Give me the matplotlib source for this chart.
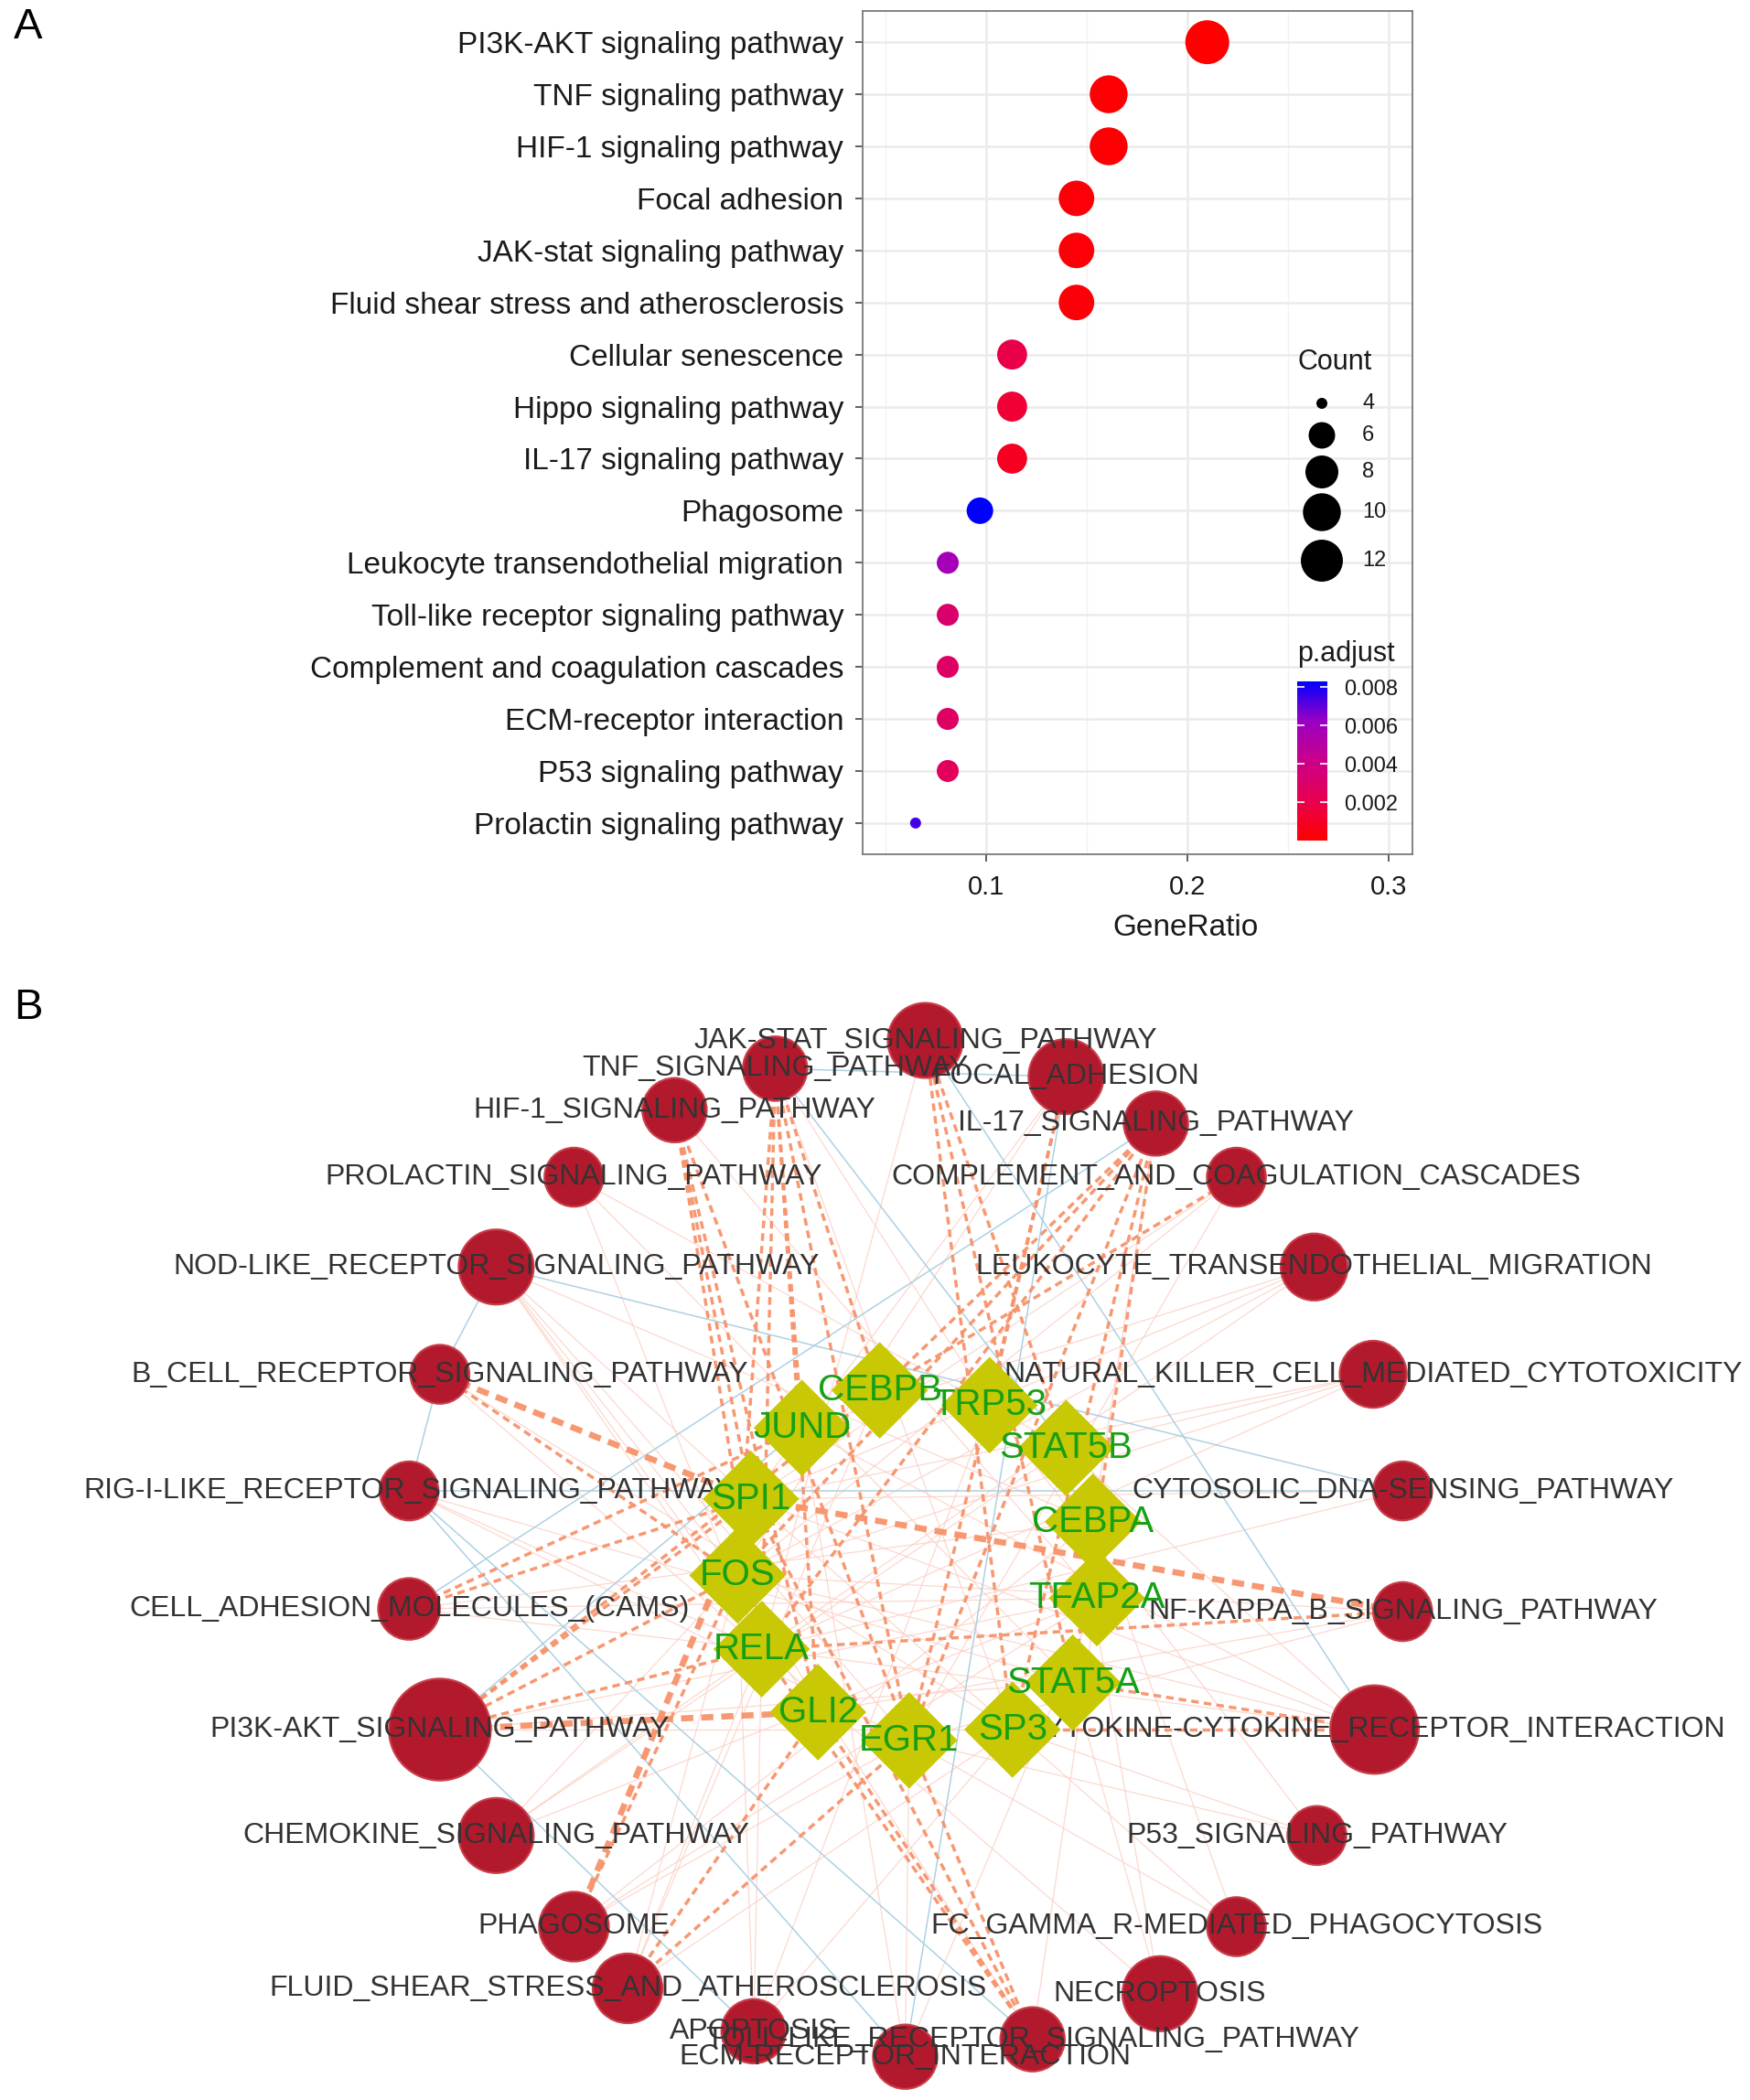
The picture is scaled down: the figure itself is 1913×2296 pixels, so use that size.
import numpy as np
import matplotlib
matplotlib.use("Agg")
import matplotlib.pyplot as plt
from matplotlib.colors import LinearSegmentedColormap
from matplotlib.patches import Circle, RegularPolygon

plt.rcParams['font.family'] = ['Liberation Sans', 'DejaVu Sans']

# ---------------- data, panel A ----------------
terms = ["PI3K-AKT signaling pathway", "TNF signaling pathway", "HIF-1 signaling pathway",
         "Focal adhesion", "JAK-stat signaling pathway", "Fluid shear stress and atherosclerosis",
         "Cellular senescence", "Hippo signaling pathway", "IL-17 signaling pathway",
         "Phagosome", "Leukocyte transendothelial migration", "Toll-like receptor signaling pathway",
         "Complement and coagulation cascades", "ECM-receptor interaction",
         "P53 signaling pathway", "Prolactin signaling pathway"]
gene_ratio = [0.210, 0.161, 0.161, 0.145, 0.145, 0.145, 0.113, 0.113, 0.113,
              0.097, 0.081, 0.081, 0.081, 0.081, 0.081, 0.065]
counts = [13, 10, 10, 9, 9, 9, 7, 7, 7, 6, 5, 5, 5, 5, 5, 4]
p_adjust = [0.00001, 0.0001, 0.0001, 0.0002, 0.0002, 0.0002, 0.0019, 0.0014, 0.0009,
            0.0083, 0.0058, 0.0031, 0.0028, 0.0028, 0.0025, 0.0074]
legend_counts = [4, 6, 8, 10, 12]
cbar_ticks = [0.002, 0.004, 0.006, 0.008]

# ---------------- data, panel B ----------------
pw_keys = ["JAK", "TNF", "FOCAL", "HIF1", "IL17", "PRL", "COMP", "NOD", "LEUK", "BCELL",
           "NK", "RIG", "CDS", "CAMS", "NFKB", "PI3K", "CCR", "CHEMO", "P53", "PHAGO",
           "FCGR", "FSS", "NECRO", "APOP", "TLR", "ECM"]
pw_names = ["JAK-STAT_SIGNALING_PATHWAY", "TNF_SIGNALING_PATHWAY", "FOCAL_ADHESION",
            "HIF-1_SIGNALING_PATHWAY", "IL-17_SIGNALING_PATHWAY", "PROLACTIN_SIGNALING_PATHWAY",
            "COMPLEMENT_AND_COAGULATION_CASCADES", "NOD-LIKE_RECEPTOR_SIGNALING_PATHWAY",
            "LEUKOCYTE_TRANSENDOTHELIAL_MIGRATION", "B_CELL_RECEPTOR_SIGNALING_PATHWAY",
            "NATURAL_KILLER_CELL_MEDIATED_CYTOTOXICITY", "RIG-I-LIKE_RECEPTOR_SIGNALING_PATHWAY",
            "CYTOSOLIC_DNA-SENSING_PATHWAY", "CELL_ADHESION_MOLECULES_(CAMS)",
            "NF-KAPPA_B_SIGNALING_PATHWAY", "PI3K-AKT_SIGNALING_PATHWAY",
            "CYTOKINE-CYTOKINE_RECEPTOR_INTERACTION", "CHEMOKINE_SIGNALING_PATHWAY",
            "P53_SIGNALING_PATHWAY", "PHAGOSOME", "FC_GAMMA_R-MEDIATED_PHAGOCYTOSIS",
            "FLUID_SHEAR_STRESS_AND_ATHEROSCLEROSIS", "NECROPTOSIS", "APOPTOSIS",
            "TOLL-LIKE_RECEPTOR_SIGNALING_PATHWAY", "ECM-RECEPTOR_INTERACTION"]
pw_x = [690, 578, 795, 503, 862, 428, 922, 370, 980, 328, 1024, 305, 1046, 305, 1046,
        328, 1025, 370, 982, 428, 922, 468, 865, 562, 770, 675]
pw_y = [776, 797, 803, 828, 838, 878, 878, 945, 945, 1025, 1025, 1112, 1112, 1200, 1202,
        1290, 1290, 1369, 1369, 1437, 1437, 1483, 1487, 1515, 1521, 1534]
pw_r = [28, 24, 28, 24, 24, 22, 22, 28, 25, 22, 25, 22, 22, 23, 22,
        38, 33, 28, 22, 26, 22, 26, 28, 24, 24, 24]

tf_names = ["CEBPB", "JUND", "TRP53", "STAT5B", "SPI1", "CEBPA", "FOS", "TFAP2A",
            "RELA", "STAT5A", "GLI2", "SP3", "EGR1"]
tf_x = [656, 598, 738, 795, 560, 815, 550, 818, 568, 800, 610, 755, 678]
tf_y = [1037, 1065, 1048, 1080, 1118, 1135, 1175, 1192, 1230, 1255, 1277, 1290, 1298]

# TF -> pathway regulation (dashed), thick ones separately
reg_edges = [("HIF1", "SPI1"), ("HIF1", "GLI2"), ("HIF1", "EGR1"), ("HIF1", "RELA"),
             ("TNF", "JUND"), ("TNF", "FOS"), ("TNF", "RELA"), ("TNF", "EGR1"),
             ("TNF", "CEBPB"), ("TNF", "GLI2"), ("JAK", "STAT5B"), ("JAK", "STAT5A"),
             ("JAK", "SP3"), ("FOCAL", "TRP53"), ("FOCAL", "EGR1"), ("IL17", "CEBPB"),
             ("IL17", "EGR1"), ("IL17", "RELA"), ("IL17", "FOS"), ("IL17", "SP3"),
             ("IL17", "STAT5A"), ("BCELL", "FOS"), ("CAMS", "SPI1"), ("CAMS", "JUND"),
             ("PI3K", "FOS"), ("PI3K", "RELA"), ("PI3K", "SPI1"), ("PI3K", "CEBPB"),
             ("PHAGO", "FOS"), ("FSS", "EGR1"), ("FSS", "GLI2"), ("TLR", "GLI2"),
             ("TLR", "RELA"), ("TLR", "EGR1"), ("TLR", "SPI1"), ("NFKB", "RELA"),
             ("CCR", "STAT5A"), ("CCR", "SP3"), ("COMP", "CEBPB")]
reg_edges_thick = [("BCELL", "SPI1"), ("PI3K", "GLI2"), ("PHAGO", "SPI1"), ("NFKB", "SPI1")]
ppi_edges = [("NOD", "SPI1"), ("NOD", "FOS"), ("NOD", "RELA"), ("NOD", "GLI2"), ("NOD", "EGR1"),
             ("NOD", "CEBPA"), ("PRL", "STAT5A"), ("PRL", "STAT5B"), ("PRL", "RELA"),
             ("COMP", "EGR1"), ("COMP", "FOS"), ("COMP", "SPI1"), ("LEUK", "SPI1"),
             ("LEUK", "FOS"), ("LEUK", "RELA"), ("LEUK", "JUND"), ("NK", "STAT5B"),
             ("NK", "RELA"), ("NK", "SPI1"), ("NK", "FOS"), ("CDS", "RELA"), ("CDS", "SPI1"),
             ("NFKB", "FOS"), ("NFKB", "EGR1"), ("NFKB", "GLI2"), ("CCR", "RELA"),
             ("CCR", "STAT5B"), ("CCR", "FOS"), ("CCR", "SPI1"), ("CCR", "JUND"),
             ("P53", "TRP53"), ("P53", "EGR1"), ("P53", "SP3"), ("FCGR", "SPI1"),
             ("FCGR", "EGR1"), ("FCGR", "CEBPA"), ("NECRO", "STAT5A"), ("NECRO", "RELA"),
             ("NECRO", "STAT5B"), ("APOP", "RELA"), ("APOP", "TRP53"), ("APOP", "SP3"),
             ("APOP", "FOS"), ("CHEMO", "STAT5B"), ("CHEMO", "RELA"), ("CHEMO", "FOS"),
             ("CHEMO", "TFAP2A"), ("ECM", "JUND"), ("ECM", "EGR1"), ("ECM", "TFAP2A"),
             ("CAMS", "CEBPA"), ("CAMS", "TFAP2A"), ("CAMS", "RELA"), ("FSS", "FOS"),
             ("FSS", "RELA"), ("FSS", "CEBPB"), ("FSS", "SP3"), ("PHAGO", "CEBPA"),
             ("PHAGO", "EGR1"), ("PHAGO", "TFAP2A"), ("RIG", "RELA"), ("RIG", "EGR1"),
             ("RIG", "STAT5A"), ("BCELL", "RELA"), ("BCELL", "SP3"), ("PI3K", "STAT5A"),
             ("PI3K", "SP3"), ("PI3K", "TFAP2A"), ("TNF", "TRP53"), ("TNF", "SP3"),
             ("HIF1", "TFAP2A"), ("JAK", "RELA"), ("FOCAL", "SPI1"), ("FOCAL", "FOS"),
             ("IL17", "CEBPA"), ("TLR", "FOS"), ("TLR", "TFAP2A")]
path_edges = [("NOD", "BCELL"), ("BCELL", "RIG"), ("RIG", "CDS"), ("NOD", "CDS"),
              ("RIG", "TLR"), ("RIG", "ECM"), ("PI3K", "APOP"), ("FOCAL", "ECM"),
              ("JAK", "CCR"), ("CAMS", "IL17"), ("TNF", "FOCAL"), ("PI3K", "JUND"),
              ("TNF", "STAT5B")]

# ---------------- figure ----------------
DPI = 100
W, H = 1913, 2296
fig = plt.figure(figsize=(W / DPI, H / DPI), dpi=DPI)

cmap = LinearSegmentedColormap.from_list(
    'padj', [(0, '#FF0000'), (0.25, '#E8004F'), (0.5, '#CA0088'), (0.75, '#9B00C3'), (1, '#0000FF')])


def dot_size(c):
    d = 12 + 36 * np.sqrt((np.asarray(c, dtype=float) - 4) / 9.0)   # diameter in px
    return (d * 72.0 / DPI) ** 2


# ---- panel A: dot plot ----
ax = fig.add_axes([943 / W, 1 - 934 / H, (1544 - 943) / W, (934 - 12) / H])
ypos = np.arange(len(terms))[::-1] + 1
sc = ax.scatter(gene_ratio, ypos, s=dot_size(counts), c=p_adjust, cmap=cmap,
                vmin=0, vmax=0.0083, edgecolors='none', zorder=3)
ax.set_xlim(0.0387, 0.312)
ax.set_ylim(0.4, len(terms) + 0.6)
ax.set_yticks(ypos)
ax.set_yticklabels(terms, fontsize=24, color='#1a1a1a')
ax.set_xticks([0.1, 0.2, 0.3])
ax.set_xticklabels(['0.1', '0.2', '0.3'], fontsize=21, color='#1a1a1a')
ax.set_xticks([0.05, 0.15, 0.25], minor=True)
ax.grid(which='major', color='#EBEBEB', lw=1.8)
ax.grid(which='minor', axis='x', color='#F3F3F3', lw=1.0)
ax.set_axisbelow(True)
ax.tick_params(which='minor', length=0)
ax.tick_params(which='major', length=6, width=1.2, color='#444444')
ax.tick_params(axis='y', pad=9)
ax.tick_params(axis='x', pad=10)
for sp in ax.spines.values():
    sp.set_color('#7a7a7a')
    sp.set_linewidth(1.3)
ax.set_xlabel('GeneRatio', fontsize=24, labelpad=10, color='#1a1a1a')
ax.xaxis.set_label_coords(0.588, -0.071)

# overlay in pixel coordinates for legends / panel letters
ov = fig.add_axes([0, 0, 1, 1], zorder=10)
ov.set_xlim(0, W)
ov.set_ylim(H, 0)
ov.axis('off')
ov.text(15, 30, 'A', fontsize=34, ha='left', va='center')
ov.text(15, 1102, 'B', fontsize=34, ha='left', va='center')

# size legend
ov.text(1418, 396, 'Count', fontsize=22, ha='left', va='center', color='#1a1a1a')
leg_y = [441, 476, 516, 560, 613]
ov.scatter([1445] * len(legend_counts), leg_y, s=dot_size(legend_counts), color='black',
           edgecolors='none')
for yy, c in zip(leg_y, legend_counts):
    ov.text(1489, yy, str(c), fontsize=17, ha='left', va='center', color='#1a1a1a')

# colour bar
ov.text(1418, 715, 'p.adjust', fontsize=22, ha='left', va='center', color='#1a1a1a')
cax = fig.add_axes([1418 / W, 1 - 919 / H, 33 / W, 174 / H])
cb = fig.colorbar(sc, cax=cax, ticks=cbar_ticks)
cb.outline.set_visible(False)
cb.ax.set_yticklabels(['%.3f' % t for t in cbar_ticks])
cax.tick_params(labelsize=17, direction='in', color='white', length=6, width=1.2,
                left=True, right=True, pad=13, labelcolor='#1a1a1a')

# ---- panel B: network ----
scale = W / 1305.0
Wd, Hd = W / scale, H / scale
fb = 0.55
axb = fig.add_axes([0, 0, 1, fb])
axb.set_xlim(0, Wd)
axb.set_ylim(Hd, Hd * (1 - fb))
axb.axis('off')

pos = {k: (x, y) for k, x, y in zip(pw_keys, pw_x, pw_y)}
pos.update({k: (x, y) for k, x, y in zip(tf_names, tf_x, tf_y)})


def draw_edges(edges, **kw):
    for a, b in edges:
        (x0, y0), (x1, y1) = pos[a], pos[b]
        axb.plot([x0, x1], [y0, y1], solid_capstyle='butt', dash_capstyle='butt', **kw)


draw_edges(ppi_edges, color='#FCCFC3', lw=0.9, alpha=0.8, zorder=1)
draw_edges(path_edges, color='#A9CFE2', lw=1.1, alpha=0.95, zorder=1)
draw_edges(reg_edges, color='#F7936A', lw=2.5, ls=(0, (2.4, 1.6)), alpha=0.95, zorder=1.5)
draw_edges(reg_edges_thick, color='#F7936A', lw=4.8, ls=(0, (2.0, 1.3)), alpha=0.95, zorder=1.5)

for x, y, r in zip(pw_x, pw_y, pw_r):
    axb.add_patch(Circle((x, y), r, facecolor='#B3192D', edgecolor='#C9404A', lw=1.5, zorder=2))
for x, y, name in zip(pw_x, pw_y, pw_names):
    axb.text(x, y, name, fontsize=23, ha='center', va='center', color='#333333', zorder=3)

for x, y in zip(tf_x, tf_y):
    axb.add_patch(RegularPolygon((x, y), numVertices=4, radius=36, orientation=0,
                                 facecolor='#C9C804', edgecolor='none', zorder=4))
for x, y, name in zip(tf_x, tf_y, tf_names):
    axb.text(x, y, name, fontsize=29, ha='center', va='center', color='#15A015', zorder=5)

fig.savefig('out.png', dpi=DPI)
